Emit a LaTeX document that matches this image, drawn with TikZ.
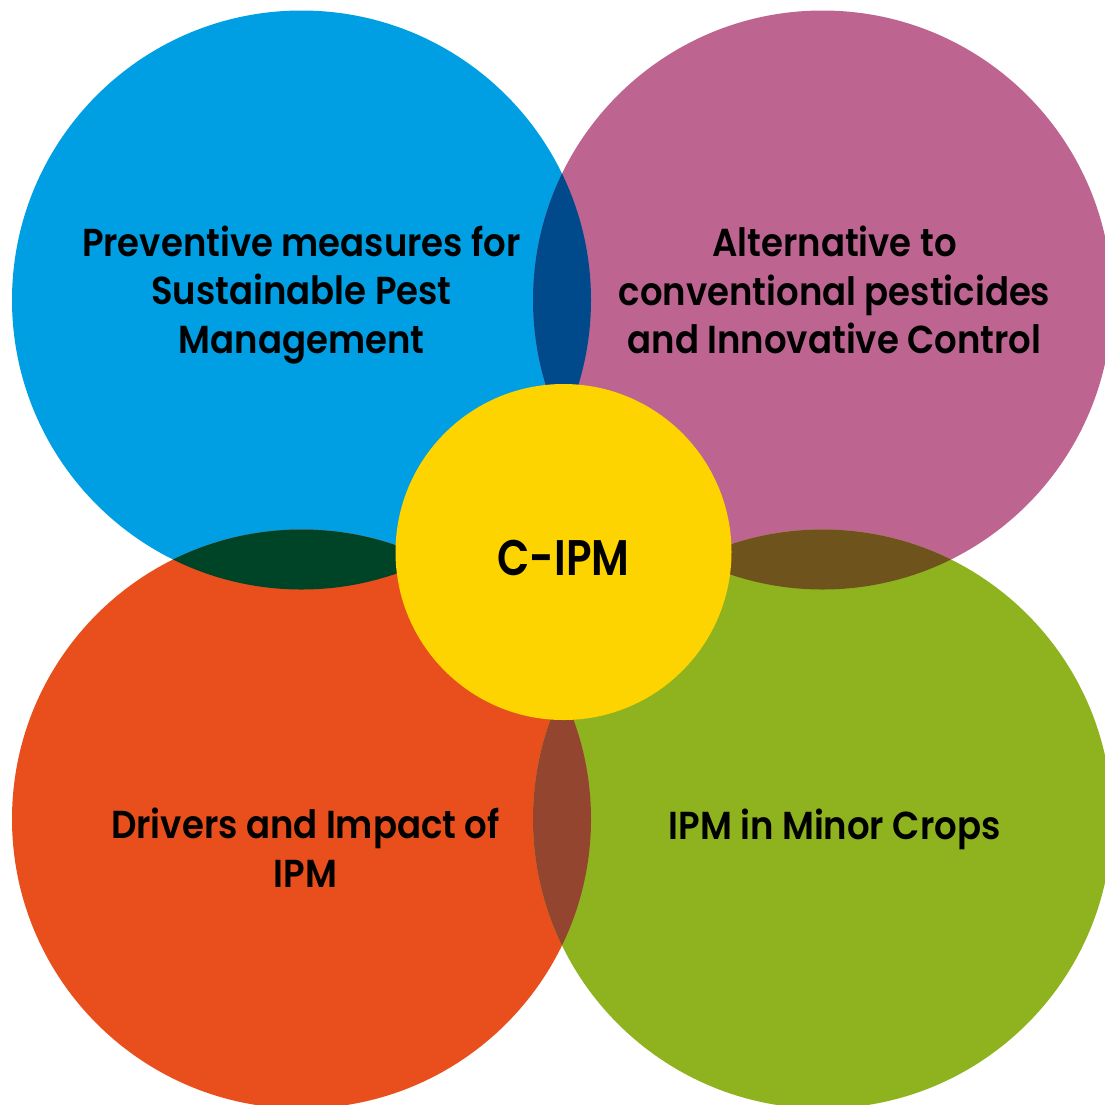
\documentclass[tikz,border=0pt]{standalone}
\usepackage{fontspec}
\setmainfont{Poppins}[FakeStretch=0.91,UprightFont=* SemiBold]
\newfontfamily\hubfont{Poppins}[FakeStretch=0.84,UprightFont=* SemiBold]
\definecolor{cblue}{HTML}{009FE3}
\definecolor{cpink}{HTML}{BD6590}
\definecolor{corange}{HTML}{E94F1C}
\definecolor{cgreen}{HTML}{8EB31F}
\definecolor{cyellow}{HTML}{FDD300}
\definecolor{lblue}{HTML}{004A8B}
\definecolor{lgreen}{HTML}{004428}
\definecolor{lbrown}{HTML}{6F531D}
\definecolor{lrust}{HTML}{934530}
\begin{document}
\begin{tikzpicture}[x=1pt,y=-1pt,
  lbl/.style={align=center,font=\fontsize{39}{48.5}\selectfont,text=black,inner sep=0pt},
  hub/.style={font=\hubfont\fontsize{50}{60}\selectfont,text=black,inner sep=0pt}]
\clip (0,0) rectangle (1105,1104);
\coordinate (TL) at (301.5,300);
\coordinate (TR) at (822.5,300);
\coordinate (BL) at (301.5,819);
\coordinate (BR) at (822.5,819);
\fill[cblue] (TL) circle[radius=289.5pt];
\fill[cpink] (TR) circle[radius=289.5pt];
\fill[corange] (BL) circle[radius=289.5pt];
\fill[cgreen] (BR) circle[radius=289.5pt];
\begin{scope}
  \clip (TL) circle[radius=289.5pt];
  \fill[lblue] (TR) circle[radius=289.5pt];
  \fill[lgreen] (BL) circle[radius=289.5pt];
\end{scope}
\begin{scope}
  \clip (BR) circle[radius=289.5pt];
  \fill[lbrown] (TR) circle[radius=289.5pt];
  \fill[lrust] (BL) circle[radius=289.5pt];
\end{scope}
\fill[cyellow] (563.5,552) circle[radius=168pt];
\node[hub] (hub) at (563.5,558) {C-IPM};
\node[lbl] (t1) at (301.5,295) {Preventive measures for\\Sustainable Pest\\Management};
\node[lbl] (t2) at (834.5,290) {Alternative to\\conventional pesticides\\and Innovative Control};
\node[lbl] (t3) at (305.5,847.5) {Drivers and Impact of\\IPM};
\node[lbl] (t4) at (834.5,829) {IPM in Minor Crops};
\end{tikzpicture}
\end{document}
